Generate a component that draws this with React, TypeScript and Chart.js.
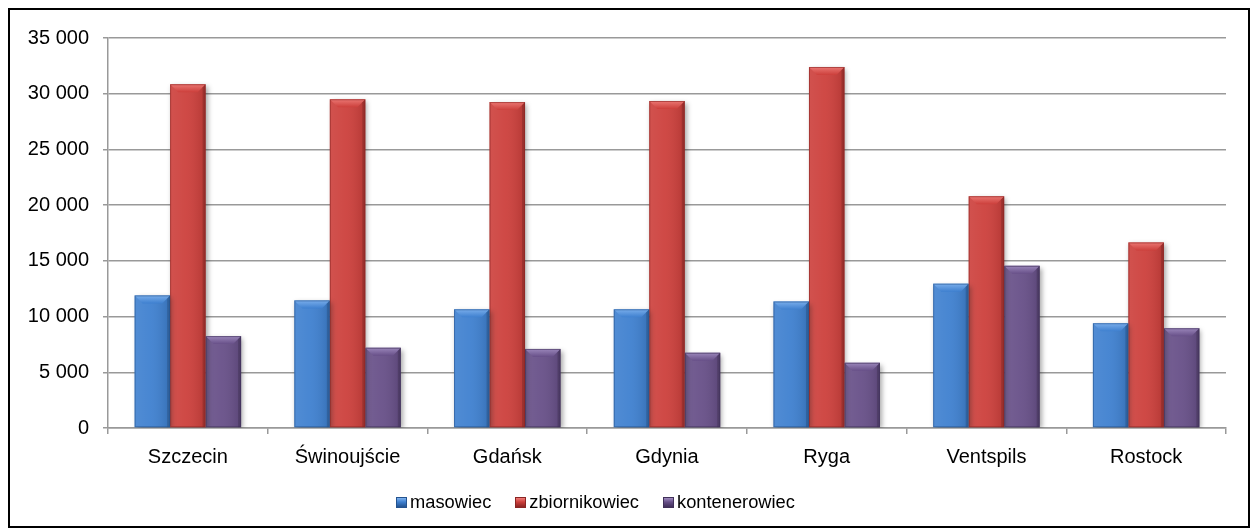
import React, { useEffect, useRef } from "react";
import { Chart, registerables } from "chart.js";

Chart.register(...registerables);

const categories = ["Szczecin", "Świnoujście", "Gdańsk", "Gdynia", "Ryga", "Ventspils", "Rostock"];
const masowiec = [11900, 11450, 10650, 10650, 11350, 12950, 9400];
const zbiornikowiec = [30850, 29500, 29250, 29350, 32400, 20800, 16650];
const kontenerowiec = [8250, 7200, 7100, 6750, 5850, 14550, 8950];
const seriesNames = ["masowiec", "zbiornikowiec", "kontenerowiec"];
const seriesColors = ["#3d7fcf", "#cc3e3a", "#664e87"];
const seriesLight = ["#7fb2ee", "#ee7c78", "#a08cc0"];
const seriesEdge = ["#24538f", "#8a2523", "#403059"];

const FONT = "'Liberation Sans', Arial, sans-serif";

const fmt = (v: number) => String(v).replace(/\B(?=(\d{3})+(?!\d))/g, " ");

const bevelPlugin = {
  id: "bevel",
  beforeDatasetsDraw(chart: any) {
    const ctx = chart.ctx;
    ctx.save();
    ctx.shadowColor = "rgba(0,0,0,0.35)";
    ctx.shadowBlur = 5;
    ctx.shadowOffsetX = 2;
    ctx.shadowOffsetY = 2;
  },
  afterDatasetsDraw(chart: any) {
    const ctx = chart.ctx;
    ctx.restore();
    chart.data.datasets.forEach((ds: any, di: number) => {
      const meta = chart.getDatasetMeta(di);
      meta.data.forEach((el: any) => {
        const { x, y, base, width } = el.getProps(["x", "y", "base", "width"], true);
        const x0 = x - width / 2;
        const x1 = x + width / 2;
        const top = Math.min(y, base);
        const bottom = Math.max(y, base);
        const b = Math.min(8, (bottom - top) / 2, width / 2);
        ctx.save();
        const g = ctx.createLinearGradient(x0, 0, x1, 0);
        g.addColorStop(0, "rgba(255,255,255,0.10)");
        g.addColorStop(0.45, "rgba(255,255,255,0.06)");
        g.addColorStop(1, "rgba(0,0,0,0.12)");
        ctx.fillStyle = g;
        ctx.fillRect(x0, top, width, bottom - top);
        ctx.beginPath();
        ctx.moveTo(x0, top);
        ctx.lineTo(x1, top);
        ctx.lineTo(x1 - b, top + b);
        ctx.lineTo(x0 + b, top + b);
        ctx.closePath();
        const tg = ctx.createLinearGradient(0, top, 0, top + b);
        tg.addColorStop(0, seriesLight[di]);
        tg.addColorStop(1, seriesColors[di]);
        ctx.globalAlpha = 0.9;
        ctx.fillStyle = tg;
        ctx.fill();
        ctx.globalAlpha = 1;
        ctx.beginPath();
        ctx.moveTo(x1, top);
        ctx.lineTo(x1, bottom);
        ctx.lineTo(x1 - 3, bottom);
        ctx.lineTo(x1 - 3, top + 3);
        ctx.closePath();
        ctx.fillStyle = "rgba(0,0,0,0.15)";
        ctx.fill();
        ctx.strokeStyle = seriesEdge[di];
        ctx.globalAlpha = 0.6;
        ctx.lineWidth = 1;
        ctx.strokeRect(x0 + 0.5, top + 0.5, width - 1, bottom - top - 1);
        ctx.restore();
      });
    });
  },
};

export default function App() {
  const ref = useRef<HTMLCanvasElement | null>(null);

  useEffect(() => {
    if (!ref.current) return;
    const values = [masowiec, zbiornikowiec, kontenerowiec];
    const chart = new Chart(ref.current, {
      type: "bar",
      data: {
        labels: categories,
        datasets: values.map((v, i) => ({
          label: seriesNames[i],
          data: v,
          backgroundColor: seriesColors[i],
          borderWidth: 0,
          barPercentage: 1,
          categoryPercentage: 3 / 4.5,
        })),
      },
      options: {
        responsive: false,
        animation: false,
        devicePixelRatio: 1,
        layout: { padding: { left: 0, right: 22, top: 28, bottom: 44 } },
        plugins: {
          tooltip: { enabled: false },
          legend: { display: false },
        },
        scales: {
          x: {
            afterFit: (s: any) => {
              s.height = 54;
            },
            grid: {
              display: true,
              drawOnChartArea: false,
              drawTicks: true,
              tickLength: 6,
              color: "#999",
              lineWidth: 1.5,
              offset: true,
            },
            border: { display: true, color: "#999", width: 1.5 },
            ticks: {
              font: { family: FONT, size: 20 },
              color: "#000",
              padding: 11,
              maxRotation: 0,
            },
          },
          y: {
            min: 0,
            max: 35000,
            afterFit: (s: any) => {
              s.width = 98;
            },
            grid: {
              color: "#999",
              lineWidth: 1.5,
              tickLength: 5,
              drawTicks: true,
            },
            border: { display: true, color: "#999", width: 1.5 },
            ticks: {
              stepSize: 5000,
              font: { family: FONT, size: 20 },
              color: "#000",
              padding: 14,
              callback: (v: any) => fmt(Number(v)),
            },
          },
        },
      },
      plugins: [bevelPlugin],
    } as any);
    return () => chart.destroy();
  }, []);

  return (
    <div
      style={{
        position: "fixed",
        left: 8,
        top: 8,
        width: 1242,
        height: 520,
        boxSizing: "border-box",
        border: "2px solid #000",
        background: "#fff",
      }}
    >
      <canvas ref={ref} width={1238} height={516} style={{ display: "block" }} />
      <div
        style={{
          position: "absolute",
          left: 386,
          top: 482,
          display: "flex",
          alignItems: "center",
          fontFamily: FONT,
          fontSize: 18.3,
          lineHeight: "20px",
          color: "#000",
          whiteSpace: "nowrap",
        }}
      >
        {seriesNames.map((n, i) => (
          <div key={n} style={{ display: "flex", alignItems: "center", marginRight: 24 }}>
            <span
              style={{
                display: "inline-block",
                width: 11,
                height: 11,
                marginRight: 3,
                boxSizing: "border-box",
                border: `1px solid ${seriesEdge[i]}`,
                background: `linear-gradient(180deg, ${seriesLight[i]} 0%, ${seriesColors[i]} 45%, ${seriesEdge[i]} 100%)`,
              }}
            />
            <span>{n}</span>
          </div>
        ))}
      </div>
    </div>
  );
}
